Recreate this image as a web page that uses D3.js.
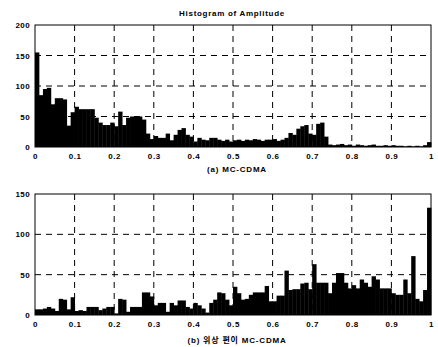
<!DOCTYPE html>
<html>
<head>
<meta charset="utf-8">
<script src="https://cdn.jsdelivr.net/npm/d3@7"></script>
<style>
  body { margin: 0; background: #fff; }
  text { font-family: "Liberation Sans", Arial, "Noto Sans CJK KR", sans-serif; font-weight: bold; fill: #000; }
</style>
</head>
<body>
<svg id="chart"></svg>
<script>
// histogram counts, 100 bins of width 0.01 over [0,1]
const ampA = [
  155, 85, 95, 97, 70, 80, 80, 78, 35, 57,
  66, 62, 62, 62, 62, 48, 40, 36, 36, 40,
  34, 58, 36, 48, 50, 50, 50, 45, 22, 13,
  18, 15, 15, 22, 11, 20, 28, 31, 20, 17,
  9, 15, 12, 11, 15, 15, 12, 10, 12, 9,
  11, 12, 10, 12, 11, 13, 12, 10, 12, 12,
  13, 10, 12, 15, 23, 20, 30, 34, 36, 22,
  20, 38, 40, 17, 4, 3, 4, 5, 3, 4,
  2, 4, 3, 2, 3, 4, 2, 2, 3, 2,
  3, 2, 2, 1, 2, 1, 2, 1, 3, 8
];
const ampB = [
  7, 7, 8, 10, 8, 5, 20, 19, 7, 22,
  5, 6, 5, 10, 10, 10, 6, 8, 10, 10,
  2, 20, 19, 4, 10, 10, 10, 28, 28, 23,
  12, 15, 15, 4, 15, 12, 18, 18, 10, 8,
  15, 12, 8, 3, 15, 19, 28, 27, 19, 12,
  35, 27, 19, 20, 25, 28, 28, 28, 36, 17,
  17, 24, 24, 55, 31, 32, 32, 39, 40, 32,
  63, 40, 40, 40, 27, 40, 52, 52, 40, 33,
  37, 33, 44, 40, 35, 48, 44, 33, 33, 33,
  27, 25, 25, 44, 27, 73, 20, 17, 31, 133
];
const xTicks = [0, 0.1, 0.2, 0.3, 0.4, 0.5, 0.6, 0.7, 0.8, 0.9, 1];
const xTickLabels = ["0", "0.1", "0.2", "0.3", "0.4", "0.5", "0.6", "0.7", "0.8", "0.9", "1"];
const yTicksA = [0, 50, 100, 150, 200];
const yTicksB = [0, 50, 100, 150];
const titleText = "Histogram of Amplitude";
const captionA = "(a) MC-CDMA";
const captionB = "(b) 위상 편이 MC-CDMA";

const W = 438, H = 347;
const svg = d3.select("#chart").attr("width", W).attr("height", H);

function panel(data, yMax, yTicks, top, bottom, caption, captionY) {
  let left = 35, right = 431;
  let x = d3.scaleLinear().domain([0, 1]).range([left, right]);
  let y = d3.scaleLinear().domain([0, yMax]).range([bottom, top]);
  let g = svg.append("g");
  let binW = 0.01;

  g.selectAll("rect.bar")
    .data(data)
    .enter().append("rect")
    .attr("class", "bar")
    .attr("x", (d, i) => x(i * binW))
    .attr("width", x(binW) - x(0) + 0.4)
    .attr("y", d => y(d))
    .attr("height", d => y(0) - y(d))
    .attr("fill", "#000");

  // dashed grid
  g.selectAll("line.vg")
    .data(xTicks.slice(1, -1))
    .enter().append("line")
    .attr("x1", d => x(d)).attr("x2", d => x(d))
    .attr("y1", top).attr("y2", bottom)
    .attr("stroke", "#000").attr("stroke-width", 1)
    .attr("stroke-dasharray", "6,5");
  g.selectAll("line.hg")
    .data(yTicks.slice(1, -1))
    .enter().append("line")
    .attr("x1", left).attr("x2", right)
    .attr("y1", d => y(d)).attr("y2", d => y(d))
    .attr("stroke", "#000").attr("stroke-width", 1)
    .attr("stroke-dasharray", "6,5");

  // axes
  let xAxis = d3.axisBottom(x).tickValues(xTicks)
    .tickFormat((d, i) => xTickLabels[i]).tickSize(0).tickPadding(6);
  let gx = g.append("g").attr("transform", "translate(0," + bottom + ")").call(xAxis);
  gx.select(".domain").remove();
  gx.selectAll("text").style("font-size", "8px").style("letter-spacing", "0.6px")
    .style("font-family", "'Liberation Sans', Arial, sans-serif").style("font-weight", "bold");

  let yAxis = d3.axisLeft(y).tickValues(yTicks).tickSize(0).tickPadding(5);
  let gy = g.append("g").attr("transform", "translate(" + left + ",0)").call(yAxis);
  gy.select(".domain").remove();
  gy.selectAll("text").style("font-size", "8px").style("letter-spacing", "0.4px")
    .style("font-family", "'Liberation Sans', Arial, sans-serif").style("font-weight", "bold");

  g.append("rect")
    .attr("x", left).attr("y", top)
    .attr("width", right - left).attr("height", bottom - top)
    .attr("fill", "none").attr("stroke", "#000").attr("stroke-width", 1);

  g.append("text")
    .attr("x", (left + right) / 2 + 4).attr("y", captionY)
    .attr("text-anchor", "middle")
    .style("font-size", "8px").style("letter-spacing", "0.8px")
    .text(caption);
}

svg.append("text")
  .attr("x", 232).attr("y", 16)
  .attr("text-anchor", "middle")
  .style("font-size", "8px").style("letter-spacing", "0.7px")
  .text(titleText);

panel(ampA, 200, yTicksA, 25, 147, captionA, 172);
panel(ampB, 150, yTicksB, 194, 315, captionB, 343);
</script>
</body>
</html>
